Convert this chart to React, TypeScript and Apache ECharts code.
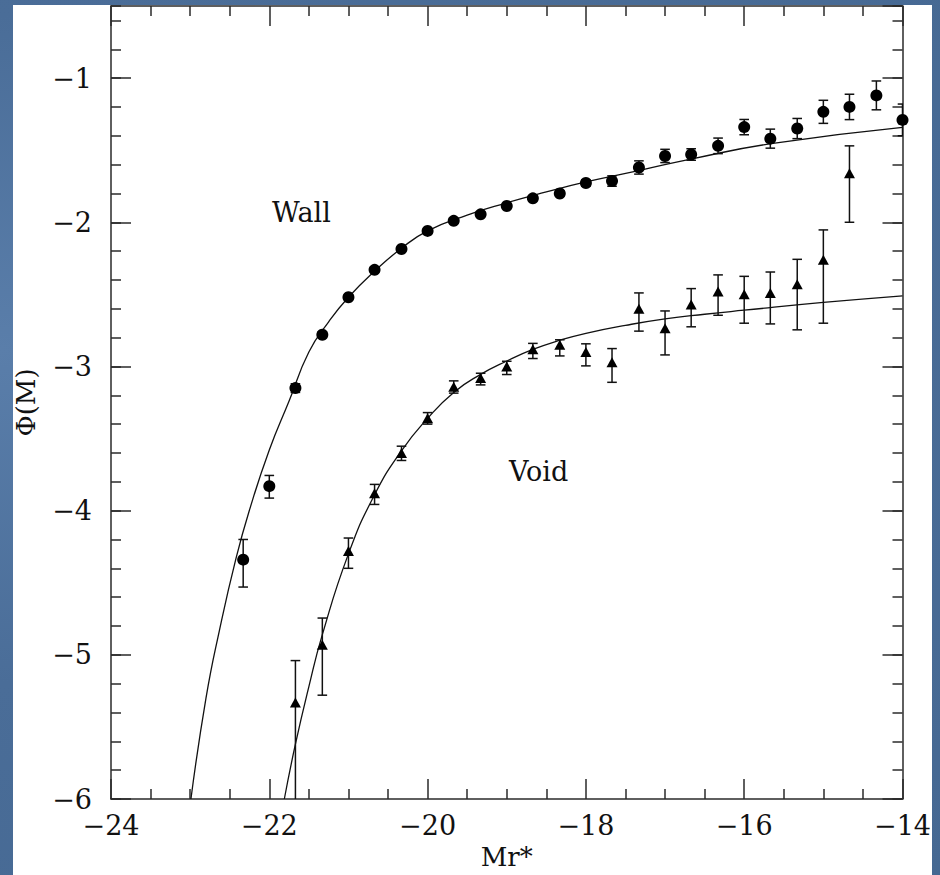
import React, { useEffect, useRef } from "react";
import * as echarts from "echarts";

// ---- axis ranges / ticks ----
const X_MIN = -24;
const X_MAX = -14;
const X_INTERVAL = 2;
const Y_MIN = -6;
const Y_MAX = -0.5;
const Y_INTERVAL = 1;
const Y_MINOR_INTERVAL = 0.2;

// ---- Wall sample (circles) ----
const wallM = [-22.33, -22.0, -21.67, -21.33, -21.0, -20.67, -20.33, -20.0, -19.67, -19.33, -19.0, -18.67, -18.33, -18.0, -17.67, -17.33, -17.0, -16.67, -16.33, -16.0, -15.67, -15.33, -15.0, -14.67, -14.33, -14.0];
const wallPhi = [-4.34, -3.83, -3.15, -2.78, -2.52, -2.33, -2.185, -2.06, -1.99, -1.945, -1.887, -1.834, -1.8, -1.728, -1.714, -1.62, -1.54, -1.53, -1.47, -1.34, -1.42, -1.35, -1.234, -1.2, -1.12, -1.29];
const wallLo = [-4.53, -3.913, -3.18, -2.8, -2.535, -2.345, -2.198, -2.072, -2.003, -1.957, -1.9, -1.85, -1.818, -1.75, -1.75, -1.666, -1.586, -1.57, -1.524, -1.393, -1.486, -1.42, -1.314, -1.288, -1.22, -1.4];
const wallHi = [-4.2, -3.756, -3.12, -2.76, -2.505, -2.315, -2.172, -2.048, -1.977, -1.933, -1.874, -1.818, -1.782, -1.706, -1.678, -1.574, -1.494, -1.49, -1.416, -1.287, -1.354, -1.28, -1.154, -1.112, -1.02, -1.18];

// ---- Void sample (triangles) ----
const voidM = [-21.67, -21.33, -21.0, -20.67, -20.33, -20.0, -19.67, -19.33, -19.0, -18.67, -18.33, -18.0, -17.67, -17.33, -17.0, -16.67, -16.33, -16.0, -15.67, -15.33, -15.0, -14.67];
const voidPhi = [-5.33, -4.93, -4.28, -3.88, -3.6, -3.36, -3.14, -3.08, -3.0, -2.88, -2.85, -2.9, -2.97, -2.6, -2.735, -2.57, -2.48, -2.5, -2.49, -2.43, -2.26, -1.66];
const voidLo = [-6.4, -5.28, -4.4, -3.957, -3.652, -3.4, -3.185, -3.128, -3.056, -2.945, -2.927, -2.996, -3.11, -2.755, -2.92, -2.725, -2.645, -2.7, -2.705, -2.746, -2.7, -2.0];
const voidHi = [-5.04, -4.745, -4.19, -3.818, -3.553, -3.32, -3.1, -3.047, -2.964, -2.84, -2.815, -2.843, -2.876, -2.49, -2.615, -2.46, -2.365, -2.375, -2.345, -2.257, -2.053, -1.47];

// ---- fitted curves ----
const wallFitM = [-22.99, -22.8, -22.63, -22.42, -22.25, -22.0, -21.75, -21.5, -21.25, -21.0, -20.67, -20.33, -20.0, -19.5, -19.0, -18.5, -18.0, -17.32, -16.66, -15.66, -14.0];
const wallFitPhi = [-6.0, -5.3, -4.83, -4.33, -3.995, -3.58, -3.24, -2.9, -2.69, -2.52, -2.34, -2.18, -2.06, -1.95, -1.865, -1.79, -1.72, -1.64, -1.56, -1.455, -1.342];
const voidFitM = [-21.81, -21.67, -21.5, -21.33, -21.0, -20.67, -20.33, -20.0, -19.67, -19.33, -19.0, -18.67, -18.33, -18.0, -17.5, -17.0, -16.5, -16.0, -15.0, -14.0];
const voidFitPhi = [-6.0, -5.62, -5.22, -4.86, -4.3, -3.89, -3.585, -3.36, -3.18, -3.055, -2.962, -2.882, -2.818, -2.77, -2.715, -2.67, -2.638, -2.61, -2.556, -2.51];

const FONT = "'DejaVu Serif', 'Liberation Serif', serif";
const INK = "#111111";
const AXIS_COLOR = "#2a2a2a";

const zip2 = (a: number[], b: number[]) => a.map((v, i) => [v, b[i]]);
const zip3 = (a: number[], b: number[], c: number[]) => a.map((v, i) => [v, b[i], c[i]]);
const minus = (v: number) => String(v).replace("-", "\u2212");

export default function App() {
  const ref = useRef<HTMLDivElement>(null);

  useEffect(() => {
    document.body.style.margin = "0";
    if (!ref.current) return;
    const chart = echarts.init(ref.current, undefined, { renderer: "svg" });

    const lineStyle = { color: AXIS_COLOR, width: 1.5 };

    const xBase = {
      type: "value" as const,
      min: X_MIN,
      max: X_MAX,
      interval: X_INTERVAL,
      splitLine: { show: false },
      axisLine: { show: true, onZero: false, lineStyle },
      axisTick: { show: true, inside: true, length: 20, lineStyle },
      minorTick: { show: true, splitNumber: 4, length: 10, lineStyle },
    };
    const yMajor = {
      type: "value" as const,
      min: Y_MIN,
      max: Y_MAX,
      interval: Y_INTERVAL,
      splitLine: { show: false },
      axisLine: { show: true, onZero: false, lineStyle },
      axisTick: { show: true, inside: true, length: 20, lineStyle },
    };
    const yMinor = {
      type: "value" as const,
      min: Y_MIN,
      max: Y_MAX,
      interval: Y_MINOR_INTERVAL,
      splitLine: { show: false },
      axisLine: { show: false, onZero: false },
      axisTick: { show: true, inside: true, length: 10, lineStyle },
      axisLabel: { show: false },
    };

    const errRender = (params: any, api: any) => {
      const x = api.value(0);
      const p1 = api.coord([x, api.value(1)]);
      const p2 = api.coord([x, api.value(2)]);
      const cap = 4.8;
      const st = { stroke: INK, lineWidth: 1.5 };
      return {
        type: "group",
        children: [
          { type: "line", shape: { x1: p1[0], y1: p1[1], x2: p2[0], y2: p2[1] }, style: st },
          { type: "line", shape: { x1: p1[0] - cap, y1: p1[1], x2: p1[0] + cap, y2: p1[1] }, style: st },
          { type: "line", shape: { x1: p2[0] - cap, y1: p2[1], x2: p2[0] + cap, y2: p2[1] }, style: st },
        ],
      };
    };

    chart.setOption({
      animation: false,
      backgroundColor: "transparent",
      grid: {
        left: 111,
        right: 37.5,
        top: 6,
        bottom: 76,
        containLabel: false,
        outerBoundsMode: "none",
      },
      xAxis: [
        {
          ...xBase,
          position: "bottom",
          name: "Mr*",
          nameLocation: "middle",
          nameGap: 45,
          nameTextStyle: { fontFamily: FONT, fontSize: 26, color: INK },
          axisLabel: { show: true, margin: 13, fontFamily: FONT, fontSize: 27, color: INK, formatter: minus },
        },
        { ...xBase, position: "top", axisLabel: { show: false } },
      ],
      yAxis: [
        {
          ...yMajor,
          position: "left",
          name: "\u03A6(M)",
          nameLocation: "middle",
          nameRotate: 90,
          nameGap: 72,
          nameTextStyle: { fontFamily: FONT, fontSize: 26, color: INK },
          axisLabel: {
            show: true,
            margin: 19,
            showMaxLabel: false,
            fontFamily: FONT,
            fontSize: 27,
            color: INK,
            formatter: (v: number) => (v > -1 ? "" : minus(v)),
          },
        },
        { ...yMinor, position: "left" },
        { ...yMajor, position: "right", axisLabel: { show: false } },
        { ...yMinor, position: "right" },
      ],
      graphic: [
        {
          type: "text",
          left: 272,
          top: 199,
          style: { text: "Wall", font: `27px ${FONT}`, fill: INK },
        },
        {
          type: "text",
          left: 509,
          top: 458,
          style: { text: "Void", font: `27px ${FONT}`, fill: INK },
        },
      ],
      series: [
        {
          name: "Wall fit",
          type: "line",
          xAxisIndex: 0,
          yAxisIndex: 0,
          data: zip2(wallFitM, wallFitPhi),
          showSymbol: false,
          smooth: 0.5,
          lineStyle: { color: INK, width: 1.3 },
          z: 2,
        },
        {
          name: "Void fit",
          type: "line",
          xAxisIndex: 0,
          yAxisIndex: 0,
          data: zip2(voidFitM, voidFitPhi),
          showSymbol: false,
          smooth: 0.5,
          lineStyle: { color: INK, width: 1.3 },
          z: 2,
        },
        {
          name: "Wall errors",
          type: "custom",
          xAxisIndex: 0,
          yAxisIndex: 0,
          clip: true,
          renderItem: errRender,
          encode: { x: 0, y: [1, 2] },
          data: zip3(wallM, wallLo, wallHi),
          z: 3,
        },
        {
          name: "Void errors",
          type: "custom",
          xAxisIndex: 0,
          yAxisIndex: 0,
          clip: true,
          renderItem: errRender,
          encode: { x: 0, y: [1, 2] },
          data: zip3(voidM, voidLo, voidHi),
          z: 3,
        },
        {
          name: "Wall",
          type: "scatter",
          xAxisIndex: 0,
          yAxisIndex: 0,
          symbol: "circle",
          symbolSize: 12,
          itemStyle: { color: "#000", opacity: 1 },
          data: zip2(wallM, wallPhi),
          z: 4,
        },
        {
          name: "Void",
          type: "scatter",
          xAxisIndex: 0,
          yAxisIndex: 0,
          symbol: "triangle",
          symbolSize: [11, 10],
          itemStyle: { color: "#000", opacity: 1 },
          data: zip2(voidM, voidPhi),
          z: 4,
        },
      ],
    });

    return () => chart.dispose();
  }, []);

  return (
    <div
      style={{
        position: "relative",
        width: 940,
        height: 875,
        overflow: "hidden",
        background:
          "radial-gradient(ellipse at 0% 40%, #5a7eaa 0%, #4a6d98 45%, #456892 100%)",
      }}
    >
      <div
        style={{
          position: "absolute",
          left: 13,
          top: 5,
          width: 919,
          height: 875,
          background: "#ffffff",
        }}
      />
      <div ref={ref} style={{ position: "absolute", left: 0, top: 0, width: 940, height: 875 }} />
    </div>
  );
}
